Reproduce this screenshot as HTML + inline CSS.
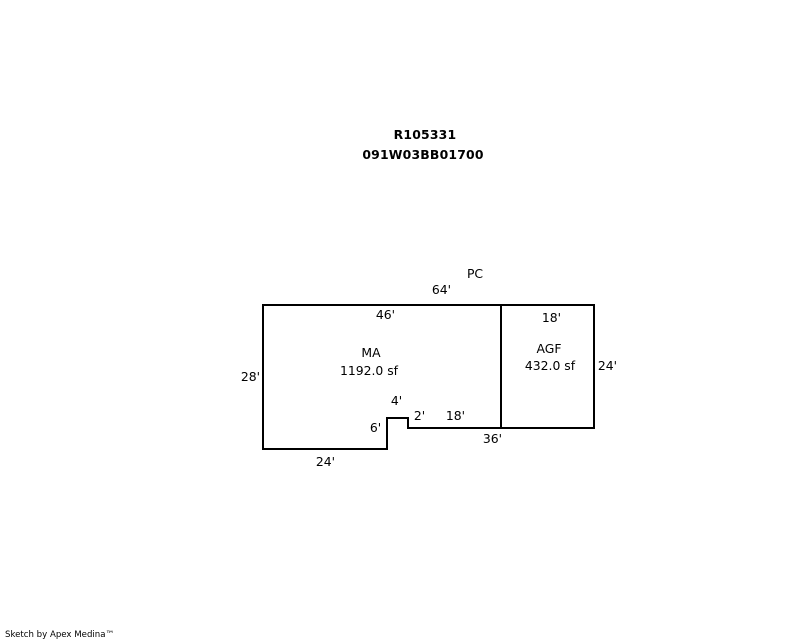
<!DOCTYPE html>
<html>
<head>
<meta charset="utf-8">
<style>
html,body{margin:0;padding:0;background:#fff;width:800px;height:640px;overflow:hidden}
svg{display:block}
text{font-family:"DejaVu Sans",sans-serif;font-size:12.4px;fill:#000;text-anchor:middle}
.b{font-weight:bold;font-size:12.4px;letter-spacing:0.2px}
.s{font-size:8.6px;text-anchor:start}
</style>
</head>
<body>
<svg width="800" height="640" viewBox="0 0 800 640" xmlns="http://www.w3.org/2000/svg">
<path d="M263 305H594V428H408V418H387V449H263Z M501 305V428" fill="none" stroke="#000" stroke-width="2" shape-rendering="crispEdges"/>
<text class="b" x="425" y="139">R105331</text>
<text class="b" x="423" y="159">091W03BB01700</text>
<text x="475" y="278">PC</text>
<text x="441.5" y="294">64'</text>
<text x="385.5" y="319">46'</text>
<text x="551.5" y="322">18'</text>
<text x="371" y="357">MA</text>
<text x="549" y="353">AGF</text>
<text x="369" y="375">1192.0 sf</text>
<text x="550" y="370">432.0 sf</text>
<text x="250.5" y="381">28'</text>
<text x="607.5" y="370">24'</text>
<text x="396.5" y="405">4'</text>
<text x="419.5" y="420">2'</text>
<text x="455.5" y="420">18'</text>
<text x="375.5" y="432">6'</text>
<text x="492.5" y="443">36'</text>
<text x="325.5" y="466">24'</text>
<text class="s" x="5" y="637">Sketch by Apex Medina™</text>
</svg>
</body>
</html>
